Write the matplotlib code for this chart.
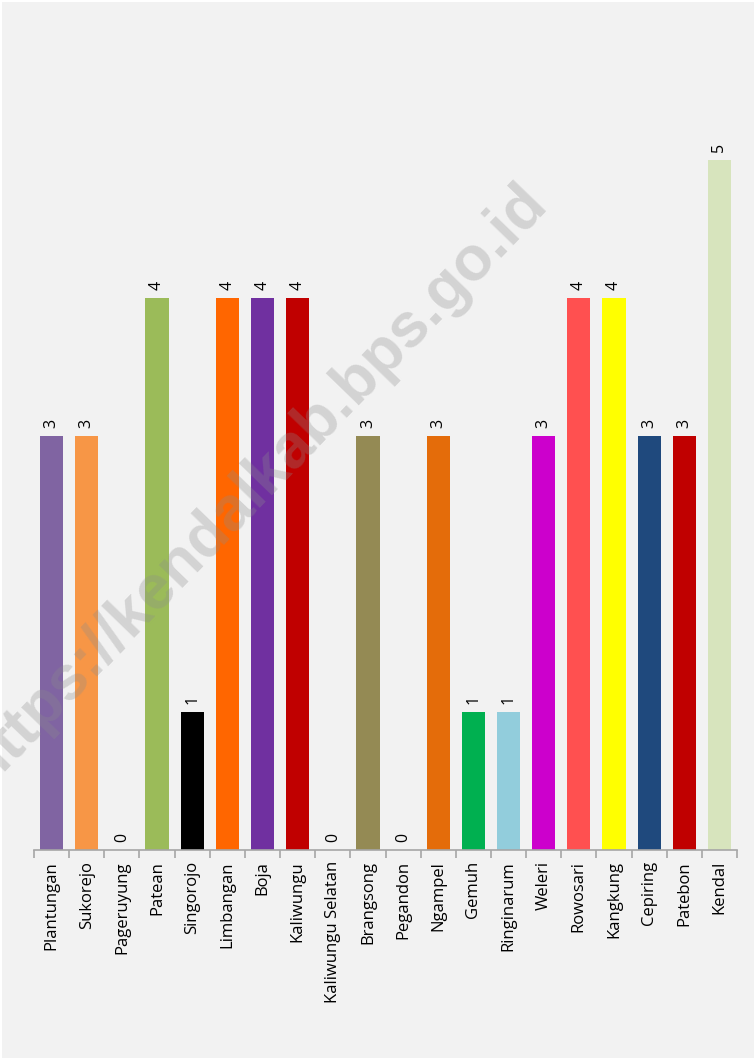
import matplotlib
matplotlib.use("Agg")
import matplotlib.pyplot as plt
from matplotlib.patches import Rectangle

categories = ["Plantungan", "Sukorejo", "Pageruyung", "Patean", "Singorojo", "Limbangan",
              "Boja", "Kaliwungu", "Kaliwungu Selatan", "Brangsong", "Pegandon", "Ngampel",
              "Gemuh", "Ringinarum", "Weleri", "Rowosari", "Kangkung", "Cepiring",
              "Patebon", "Kendal"]
values = [3, 3, 0, 4, 1, 4, 4, 4, 0, 3, 0, 3, 1, 1, 3, 4, 4, 3, 3, 5]
colors = ["#8064a2", "#f79646", "#f79646", "#9bbb59", "#000000", "#ff6600",
          "#7030a0", "#c00000", "#c00000", "#948a54", "#948a54", "#e46c0a",
          "#00b050", "#92cddc", "#cc00cc", "#ff5050", "#ffff00", "#1f497d",
          "#c00000", "#d7e4bd"]

W, H = 754, 1058
fig = plt.figure(figsize=(W / 100, H / 100), dpi=100, facecolor="white")
fig.patches.append(Rectangle((2 / W, 0), 1, 1 - 2 / H, transform=fig.transFigure,
                             facecolor="#f2f2f2", edgecolor="none", zorder=-10))

ax = fig.add_axes([34 / W, 1 - 850 / H, (737 - 34) / W, (850 - 91) / H])
ax.set_facecolor("none")
x = list(range(len(categories)))
ax.bar(x, values, width=0.66, color=colors, zorder=2)
ax.set_xlim(-0.5, len(categories) - 0.5)
ax.set_ylim(0, 5.5)

for s in ["top", "right", "left"]:
    ax.spines[s].set_visible(False)
ax.spines["bottom"].set_color("#a6a6a6")
ax.spines["bottom"].set_linewidth(1.2)
ax.set_yticks([])
ax.set_xticks([i - 0.5 for i in range(len(categories) + 1)])
ax.set_xticklabels([])
ax.tick_params(axis="x", length=6, color="#a6a6a6", width=1.2)
ax.set_xticks(x, minor=True)
ax.set_xticklabels(categories, minor=True, rotation=90, fontsize=12,
                   fontfamily="Open Sans", color="black")
ax.tick_params(axis="x", which="minor", length=0, pad=8)

for xi, v in zip(x, values):
    ax.annotate(str(v), (xi, v), xytext=(0, 6), textcoords="offset points",
                rotation=90, ha="center", va="bottom", fontsize=11.5,
                fontfamily="Open Sans", color="black")

fig.text(256 / W, 1 - 484 / H, "https://kendalkab.bps.go.id", rotation=46,
         ha="center", va="center", fontsize=45, fontweight="bold",
         color="#8c8c8c", alpha=0.3, fontfamily="Liberation Sans", zorder=5)

fig.savefig("out.png", dpi=100, facecolor=fig.get_facecolor())
